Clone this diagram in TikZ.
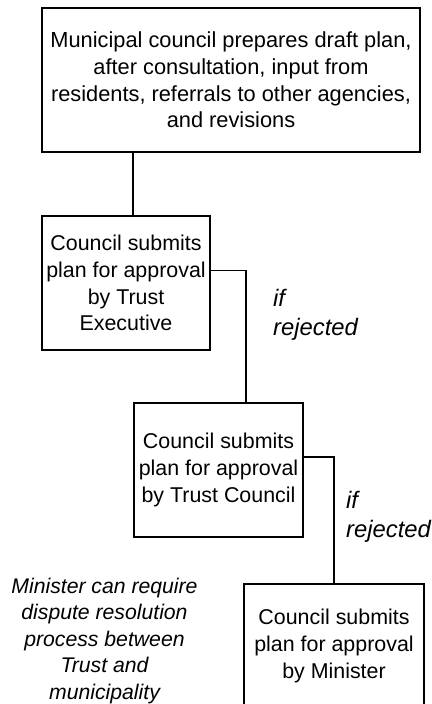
\documentclass[tikz,border=0pt]{standalone}
\usepackage{fontspec}
\setmainfont{Liberation Sans}
\begin{document}
\begin{tikzpicture}[x=1pt,y=-1pt,
  boxtext/.style={font=\fontsize{21.4}{26.7}\selectfont},
  stepbox/.style={draw,line width=1.5pt,align=center,inner sep=0pt,boxtext},
  flowline/.style={line width=1.5pt},
  note/.style={font=\fontsize{23.8}{28.5}\selectfont\itshape,inner sep=0pt}]
\useasboundingbox (0,0) rectangle (431,704);

% process steps
\node[stepbox,minimum width=378pt,minimum height=144pt,
      font=\fontsize{21.8}{26.6}\selectfont] (draft) at (231,80)
  {Municipal council prepares draft plan,\\after consultation, input from\\residents, referrals to other agencies,\\and revisions};
\node[stepbox,minimum width=168pt,minimum height=134pt] (exec) at (126,283)
  {Council submits\\plan for approval\\by Trust\\Executive};
\node[stepbox,minimum width=169pt,minimum height=134pt] (trust) at (218.5,470)
  {Council submits\\plan for approval\\by Trust Council};
\node[stepbox,minimum width=180pt,minimum height=124pt] (minister) at (334,646)
  {Council submits\\plan for approval\\by Minister};

% connectors
\draw[flowline] ([xshift=7pt]exec.north) -- ([xshift=7pt]exec.north |- draft.south);
\draw[flowline] ([yshift=12.3pt]exec.east) -| ([xshift=27.5pt]trust.north);
\draw[flowline] ([yshift=13pt]trust.east) -| (minister.north);

% annotations (base anchor = baseline of the last line)
\node[note,anchor=base west,align=left] (rej1) at (273,335) {if\\rejected};
\node[note,anchor=base west,align=left] (rej2) at (346,537) {if\\rejected};
\node[note,anchor=base,align=center,font=\fontsize{21.2}{26.6}\selectfont\itshape]
  (dispute) at (104.5,699.5)
  {Minister can require\\dispute resolution\\process between\\Trust and\\municipality};
\end{tikzpicture}
\end{document}
